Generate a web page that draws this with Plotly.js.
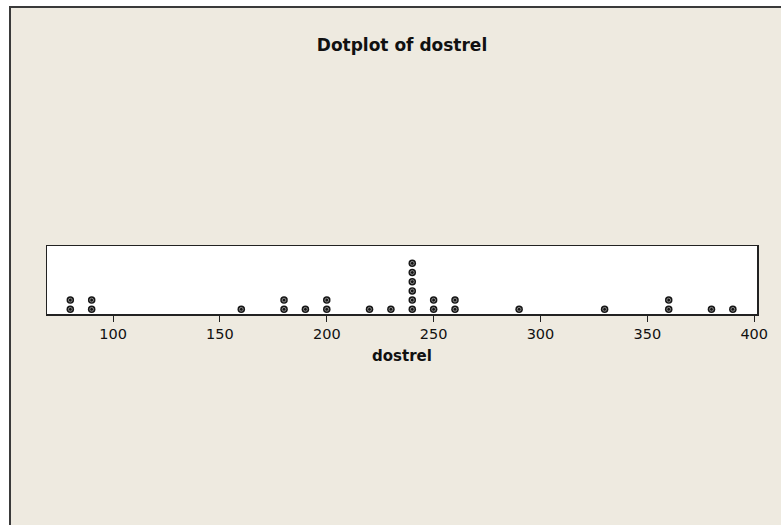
<!DOCTYPE html>
<html>
<head>
<meta charset="utf-8">
<script src="https://cdn.plot.ly/plotly-3.0.1.min.js"></script>
<style>
  html, body { margin: 0; padding: 0; background: #ffffff; }
  #frame {
    position: absolute; left: 9px; top: 6px;
    width: 772px; height: 519px;
    border-left: 2px solid #3a3a3a; border-top: 2px solid #3a3a3a;
    box-sizing: border-box;
  }
  #chart { width: 770px; height: 517px; }
</style>
</head>
<body>
<div id="frame"><div id="chart"></div></div>
<script>
// dostrel observations: distinct values and how many times each occurs
const dostrelValues = [80, 90, 160, 180, 190, 200, 220, 230, 240, 250, 260, 290, 330, 360, 380, 390];
const dostrelCounts = [2, 2, 1, 2, 1, 2, 1, 1, 6, 2, 2, 1, 1, 2, 1, 1];
const tickValues = [100, 150, 200, 250, 300, 350, 400];
const tickLabels = ['100', '150', '200', '250', '300', '350', '400'];

// stack repeated observations vertically, one dot per observation
const xs = [], ys = [];
dostrelValues.forEach((v, i) => {
  for (let k = 1; k <= dostrelCounts[i]; k++) { xs.push(v); ys.push(k); }
});

const font = 'Tahoma, Verdana, "DejaVu Sans", sans-serif';

const dots = {
  x: xs, y: ys, type: 'scatter', mode: 'markers', hoverinfo: 'x',
  marker: { symbol: 'circle', size: 7.5, color: '#151515', line: { width: 0 } }
};
const rings = {
  x: xs, y: ys, type: 'scatter', mode: 'markers', hoverinfo: 'skip',
  marker: { symbol: 'circle-open', size: 3.8, color: '#8a8a8a', line: { width: 1, color: '#8a8a8a' } }
};

const layout = {
  width: 770, height: 517,
  paper_bgcolor: '#eeeae0', plot_bgcolor: '#ffffff',
  margin: { l: 36, r: 24, t: 238, b: 211 },
  showlegend: false,
  font: { family: font, color: '#111111' },
  title: {
    text: '<b>Dotplot of dostrel</b>',
    font: { family: font, size: 17, color: '#111111' },
    x: 0.5, xref: 'paper', xanchor: 'center',
    y: 0.928, yref: 'container', yanchor: 'middle'
  },
  xaxis: {
    range: [69.1, 401.3],
    tickvals: tickValues, ticktext: tickLabels,
    ticks: 'outside', ticklen: 6, tickwidth: 1, tickcolor: '#222222',
    tickfont: { family: font, size: 14.5, color: '#111111' },
    showgrid: false, zeroline: false,
    showline: true, mirror: true, linecolor: '#222222', linewidth: 1.5,
    title: { text: '<b>dostrel</b>', font: { family: font, size: 15, color: '#111111' }, standoff: 9 }
  },
  yaxis: {
    range: [0.49, 7.88],
    showticklabels: false, ticks: '',
    showgrid: false, zeroline: false,
    showline: true, mirror: true, linecolor: '#222222', linewidth: 1.5
  }
};

Plotly.newPlot('chart', [dots, rings], layout, { displayModeBar: false, staticPlot: true });
</script>
</body>
</html>
